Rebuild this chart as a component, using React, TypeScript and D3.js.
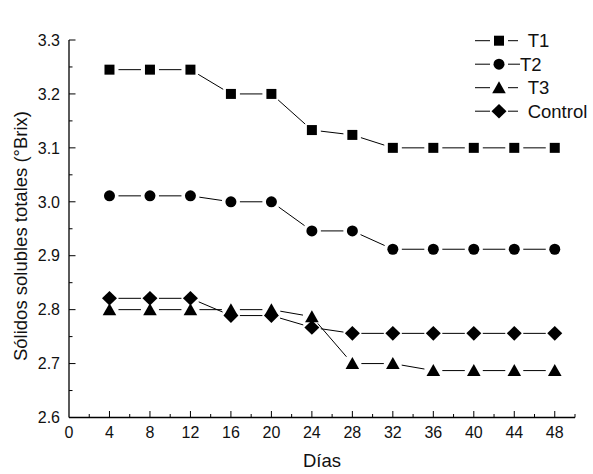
import React, { useEffect, useRef } from 'react';
import * as d3 from 'd3';

// días de muestreo
const dias = [4, 8, 12, 16, 20, 24, 28, 32, 36, 40, 44, 48];

const t1 = [3.245, 3.245, 3.245, 3.2, 3.2, 3.133, 3.124, 3.1, 3.1, 3.1, 3.1, 3.1];
const t2 = [3.011, 3.011, 3.011, 3.0, 3.0, 2.946, 2.946, 2.912, 2.912, 2.912, 2.912, 2.912];
const t3 = [2.8, 2.8, 2.8, 2.8, 2.8, 2.787, 2.7, 2.7, 2.687, 2.687, 2.687, 2.687];
const control = [2.821, 2.821, 2.821, 2.789, 2.789, 2.767, 2.756, 2.756, 2.756, 2.756, 2.756, 2.756];

const seriesNames = ['T1', 'T2', 'T3', 'Control'];
const legendLabels = ['\u00a0T1', 'T2', '\u00a0T3', '\u00a0Control'];

const xTicks = d3.range(0, 49, 4);
const yTicks = d3.range(2.6, 3.31, 0.1);

// marker paths centred on 0,0
const markerPath = (kind: string) => {
  if (kind === 'T1') return 'M-5,-5H5V5H-5Z';
  if (kind === 'T2') return 'M-5.5,0A5.5,5.5 0 1,0 5.5,0A5.5,5.5 0 1,0 -5.5,0Z';
  if (kind === 'T3') return 'M0,-6.5L6.8,5.5H-6.8Z';
  return 'M0,-7.3L7.5,0L0,7.3L-7.5,0Z';
};

const App: React.FC = () => {
  const ref = useRef<SVGSVGElement | null>(null);

  useEffect(() => {
    document.body.style.margin = '0';
    if (!ref.current) return;
    const svg = d3.select(ref.current);
    svg.selectAll('*').remove();

    const font = '"Liberation Sans", Arial, sans-serif';
    const x = d3.scaleLinear().domain([0, 50]).range([69, 575]);
    const y = d3.scaleLinear().domain([2.6, 3.3]).range([417.5, 40]);

    const g = svg.append('g');

    // x axis
    const xAxis = g.append('g').attr('transform', `translate(0,${y(2.6)})`);
    xAxis.append('line').attr('x1', x(0)).attr('x2', x(50)).attr('stroke', '#000').attr('stroke-width', 1.3);
    xAxis.selectAll('.xminor').data(d3.range(2, 51, 2)).enter().append('line')
      .attr('x1', d => x(d)).attr('x2', d => x(d))
      .attr('y1', 0).attr('y2', d => (d % 4 === 0 ? -6.5 : -3.5))
      .attr('stroke', '#000').attr('stroke-width', 1);
    xAxis.selectAll('text').data(xTicks).enter().append('text')
      .attr('x', d => x(d)).attr('y', 20)
      .attr('text-anchor', 'middle')
      .style('font-family', font).style('font-size', '16px').attr('fill', '#111')
      .text(d => d);

    // y axis
    const yAxis = g.append('g').attr('transform', `translate(${x(0)},0)`);
    yAxis.append('line').attr('y1', y(2.6)).attr('y2', y(3.3)).attr('stroke', '#000').attr('stroke-width', 1.3);
    yAxis.selectAll('.yminor').data(d3.range(0, 15)).enter().append('line')
      .attr('y1', i => y(2.6 + i * 0.05)).attr('y2', i => y(2.6 + i * 0.05))
      .attr('x1', 0).attr('x2', i => (i % 2 === 0 ? 6.5 : 3.5))
      .attr('stroke', '#000').attr('stroke-width', 1);
    yAxis.selectAll('text').data(yTicks).enter().append('text')
      .attr('x', -9).attr('y', d => y(d)).attr('dy', '0.36em')
      .attr('text-anchor', 'end')
      .style('font-family', font).style('font-size', '16px').attr('fill', '#111')
      .text(d => d.toFixed(1));

    // axis titles
    g.append('text')
      .attr('x', (x(0) + x(50)) / 2).attr('y', 467)
      .attr('text-anchor', 'middle')
      .style('font-family', font).style('font-size', '18.5px').attr('fill', '#111')
      .text('Días');
    g.append('text')
      .attr('transform', `translate(26.5,236) rotate(-90)`)
      .attr('text-anchor', 'middle')
      .style('font-family', font).style('font-size', '18.5px').attr('fill', '#111')
      .text('Sólidos solubles totales (°Brix)');

    const allSeries = [t1, t2, t3, control];
    const gap = 9;

    allSeries.forEach((vals, si) => {
      const pts = dias.map((d, i) => [x(d), y(vals[i])] as [number, number]);
      const sg = g.append('g');
      // segments with gaps around the markers
      sg.selectAll('line').data(d3.pairs(pts)).enter().append('line')
        .each(function ([a, b]) {
          const dx = b[0] - a[0];
          const dy = b[1] - a[1];
          const len = Math.hypot(dx, dy);
          const ux = dx / len;
          const uy = dy / len;
          d3.select(this)
            .attr('x1', a[0] + ux * gap).attr('y1', a[1] + uy * gap)
            .attr('x2', b[0] - ux * gap).attr('y2', b[1] - uy * gap);
        })
        .attr('stroke', '#000').attr('stroke-width', 1);
      sg.selectAll('path').data(pts).enter().append('path')
        .attr('d', markerPath(seriesNames[si]))
        .attr('transform', d => `translate(${d[0]},${d[1]})`)
        .attr('fill', '#000');
    });

    // legend
    const legend = g.selectAll('.legend').data(seriesNames).enter().append('g')
      .attr('class', 'legend')
      .attr('transform', (d, i) => `translate(499,${40.7 + i * 23.5})`);
    legend.append('line').attr('x1', -24).attr('x2', -9).attr('stroke', '#000').attr('stroke-width', 1);
    legend.append('line').attr('x1', 9).attr('x2', (d, i) => (i === 1 ? 21 : 19)).attr('stroke', '#000').attr('stroke-width', 1);
    legend.append('path').attr('d', d => markerPath(d)).attr('fill', '#000');
    legend.append('text')
      .attr('x', (d, i) => (i === 1 ? 21 : 23.5)).attr('y', 0).attr('dy', '0.36em')
      .style('font-family', font).style('font-size', '18.5px').attr('fill', '#111')
      .style('white-space', 'pre')
      .text((d, i) => legendLabels[i]);
  }, []);

  return <svg ref={ref} width={593} height={474} style={{ display: 'block', background: '#fff' }} />;
};

export default App;
